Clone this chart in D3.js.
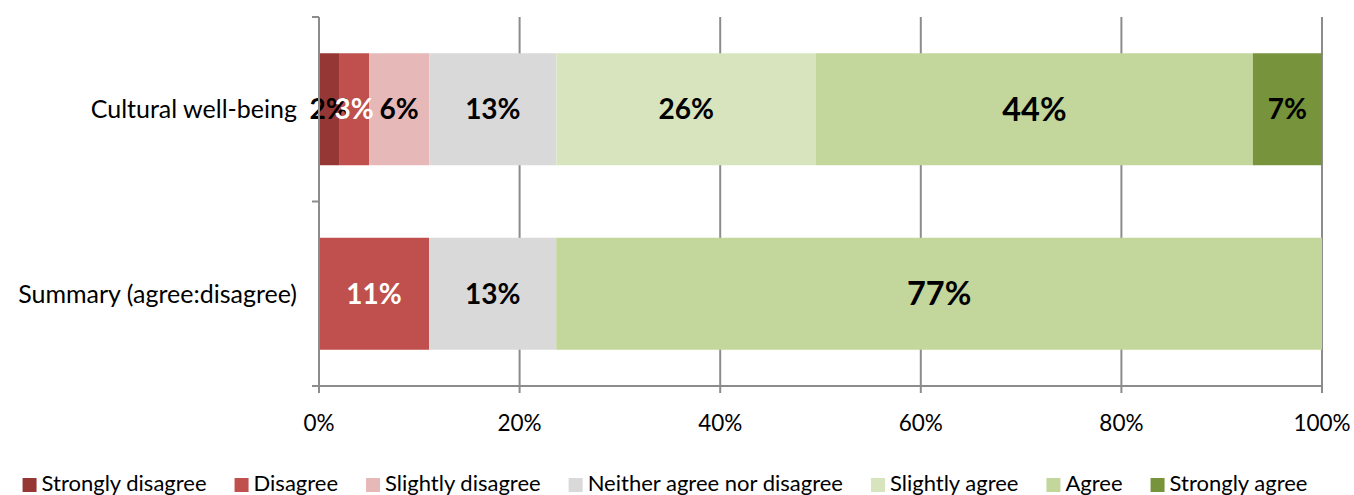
<!DOCTYPE html>
<html>
<head>
<meta charset="utf-8">
<script src="https://cdn.jsdelivr.net/npm/d3@7"></script>
<style>
  body { margin: 0; background: #fff; }
  svg { display: block; font-family: Lato, "Open Sans", sans-serif; }
</style>
</head>
<body>
<script>
var categories = ["Cultural well-being", "Summary (agree:disagree)"]
var seriesNames = ["Strongly disagree", "Disagree", "Slightly disagree", "Neither agree nor disagree", "Slightly agree", "Agree", "Strongly agree"]
var seriesColors = ["#953735", "#c0504d", "#e6b9b8", "#d9d9d9", "#d7e4bd", "#c3d69b", "#77933c"]
var labelColors = ["#000", "#fff", "#000", "#000", "#000", "#000", "#000"]
// percentages per series, one value per category (0 = no segment)
var culturalValues = [2.0, 3.0, 6.0, 12.7, 25.9, 43.6, 6.9]
var summaryValues = [0, 11.0, 0, 12.7, 0, 76.5, 0]
var xTicks = [0, 0.2, 0.4, 0.6, 0.8, 1]

var width = 1354
var height = 495
var margin = {top: 17, right: 32, bottom: 109, left: 319}

function _rows() {
  return [culturalValues, summaryValues].map(function (vals, i) {
    var total = d3.sum(vals)
    var x0 = 0
    var segs = []
    vals.forEach(function (v, j) {
      if (v > 0) {
        segs.push({cat: categories[i], series: j, value: v, x0: x0 / total, x1: (x0 + v) / total})
      }
      x0 += v
    })
    return segs
  })
}

function _chart() {
  const svg = d3.select("body").append("svg")
      .attr("width", width)
      .attr("height", height)

  var x = d3.scaleLinear().domain([0, 1]).range([margin.left, width - margin.right])
  var y = d3.scaleBand().domain(categories)
      .range([margin.top, height - margin.bottom])
      .paddingInner(0.393).paddingOuter(0.1965)

  var grid = "#8c8c8c"

  // vertical gridlines
  svg.append("g").selectAll("line").data(xTicks.slice(1)).join("line")
      .attr("x1", d => x(d)).attr("x2", d => x(d))
      .attr("y1", margin.top).attr("y2", height - margin.bottom)
      .attr("stroke", grid).attr("stroke-width", 2)

  var rows = _rows()
  var g = svg.append("g")
  rows.forEach(function (segs) {
    g.selectAll(null).data(segs).join("rect")
        .attr("x", d => x(d.x0))
        .attr("width", d => x(d.x1) - x(d.x0))
        .attr("y", d => y(d.cat))
        .attr("height", y.bandwidth())
        .attr("fill", d => seriesColors[d.series])
  })

  // axes
  svg.append("line")
      .attr("x1", x(0)).attr("x2", x(0))
      .attr("y1", margin.top).attr("y2", height - margin.bottom + 7)
      .attr("stroke", grid).attr("stroke-width", 2)
  svg.append("line")
      .attr("x1", x(0) - 7).attr("x2", x(1))
      .attr("y1", height - margin.bottom).attr("y2", height - margin.bottom)
      .attr("stroke", grid).attr("stroke-width", 2)

  var yTickPos = [margin.top].concat(categories.map(c => y(c) + y.bandwidth() + y.step() * y.paddingInner() / 2))
  yTickPos[yTickPos.length - 1] = height - margin.bottom
  svg.append("g").selectAll("line").data(yTickPos).join("line")
      .attr("x1", x(0) - 7).attr("x2", x(0))
      .attr("y1", d => d).attr("y2", d => d)
      .attr("stroke", grid).attr("stroke-width", 2)

  svg.append("g").selectAll("line").data(xTicks).join("line")
      .attr("x1", d => x(d)).attr("x2", d => x(d))
      .attr("y1", height - margin.bottom).attr("y2", height - margin.bottom + 7)
      .attr("stroke", grid).attr("stroke-width", 2)

  svg.append("g").selectAll("text").data(xTicks).join("text")
      .attr("x", d => x(d))
      .attr("y", height - margin.bottom + 45)
      .attr("text-anchor", "middle")
      .attr("font-size", 22.5)
      .attr("fill", "#000")
      .text(d => d3.format(".0%")(d))

  svg.append("g").selectAll("text").data(categories).join("text")
      .attr("x", x(0) - 22)
      .attr("y", d => y(d) + y.bandwidth() / 2)
      .attr("dy", "0.35em")
      .attr("text-anchor", "end")
      .attr("font-size", 25)
      .attr("fill", "#000")
      .text(d => d)

  // data labels
  rows.forEach(function (segs) {
    g.selectAll(null).data(segs).join("text")
        .attr("x", d => (x(d.x0) + x(d.x1)) / 2)
        .attr("y", d => y(d.cat) + y.bandwidth() / 2)
        .attr("dy", "0.36em")
        .attr("text-anchor", "middle")
        .attr("font-weight", "bold")
        .attr("font-size", d => d.value > 40 ? 32.5 : 28)
        .attr("fill", d => labelColors[d.series])
        .text(d => Math.round(d.value) + "%")
  })

  // legend, laid out from measured text widths and centered
  var leg = svg.append("g")
  var items = leg.selectAll("g").data(seriesNames).join("g")
  items.append("rect")
      .attr("width", 14).attr("height", 14)
      .attr("y", -13)
      .attr("fill", (d, i) => seriesColors[i])
  items.append("text")
      .attr("x", 19)
      .attr("font-size", 22)
      .attr("fill", "#000")
      .text(d => d)
  var pos = 0
  items.each(function () {
    var w = d3.select(this).select("text").node().getComputedTextLength()
    d3.select(this).attr("transform", "translate(" + pos + ",0)")
    pos += 19 + w + 28
  })
  var total = pos - 28
  leg.attr("transform", "translate(" + (665 - total / 2) + "," + 491 + ")")

  return svg.node()
}

_chart()
</script>
</body>
</html>
